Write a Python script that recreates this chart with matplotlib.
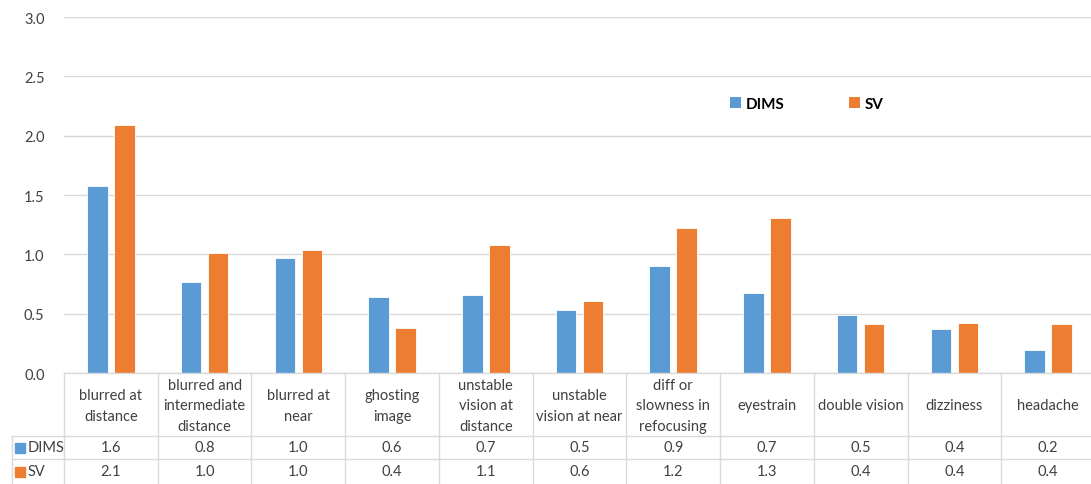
import numpy as np
import matplotlib
matplotlib.use("Agg")
import matplotlib.pyplot as plt

plt.rcParams['font.family'] = ['Lato', 'DejaVu Sans']

categories = ["blurred at\ndistance", "blurred and\nintermediate\ndistance", "blurred at\nnear",
              "ghosting\nimage", "unstable\nvision at\ndistance", "unstable\nvision at near",
              "diff or\nslowness in\nrefocusing", "eyestrain", "double vision", "dizziness", "headache"]
dims = [1.58, 0.77, 0.97, 0.64, 0.66, 0.53, 0.90, 0.67, 0.49, 0.37, 0.19]
sv = [2.09, 1.01, 1.04, 0.38, 1.08, 0.61, 1.22, 1.31, 0.41, 0.42, 0.41]
series_names = ["DIMS", "SV"]
colors = ["#5B9BD5", "#ED7D31"]
grid_c = "#D9D9D9"
text_c = "#404040"

W, H = 1091, 485
fig = plt.figure(figsize=(W / 100, H / 100), dpi=100)

# plot area in pixels: left 64, right 1095, top 18, bottom 374
left, right, top, bot = 64, 1095, 18, 374
ax = fig.add_axes([left / W, 1 - bot / H, (right - left) / W, (bot - top) / H])
x = np.arange(len(categories))
off, bw = 0.144, 0.22
ax.bar(x - off, dims, bw, color=colors[0], edgecolor="white", linewidth=0.6, zorder=3)
ax.bar(x + off, sv, bw, color=colors[1], edgecolor="white", linewidth=0.6, zorder=3)
ax.set_xlim(-0.5, len(categories) - 0.5)
ax.set_ylim(0, 3.0)
ax.set_yticks(np.arange(0, 3.01, 0.5))
ax.set_yticklabels([f"{v:.1f}" for v in np.arange(0, 3.01, 0.5)], fontsize=10.5, color=text_c)
ax.tick_params(axis="y", length=0, pad=14)
ax.set_xticks([])
ax.grid(axis="y", color=grid_c, linewidth=1, zorder=0)
for s in ax.spines.values():
    s.set_visible(False)

# legend
ax.bar([0], [0], color=colors[0], label=series_names[0])
ax.bar([0], [0], color=colors[1], label=series_names[1])
leg = ax.legend(loc="center", bbox_to_anchor=(807 / W, 1 - 105 / H), bbox_transform=fig.transFigure,
                ncol=2, frameon=False, handlelength=0.7, handleheight=0.7, handletextpad=0.3,
                columnspacing=4.25, prop={"weight": "bold", "size": 11})

# data table below the plot
tax = fig.add_axes([left / W, 0, (right - left) / W, (H - bot) / H])
tax.set_xlim(-0.5, len(categories) - 0.5)
tax.set_ylim(H, bot)  # pixel rows, top = 374
tax.axis("off")
colw = (right - left) / len(categories)
xlab = -0.5 - (left - 12) / colw  # left edge of the row-label column
r1, r2, r3 = 437, 460, 485
lk = dict(color=grid_c, linewidth=1, clip_on=False)
tax.plot([-0.5, len(categories) - 0.5], [bot, bot], **lk)
tax.plot([xlab, len(categories) - 0.5], [r1, r1], **lk)
tax.plot([xlab, len(categories) - 0.5], [r2, r2], **lk)
tax.plot([xlab, xlab], [r1, r3], **lk)
for i in range(len(categories)):
    tax.plot([i - 0.5, i - 0.5], [bot, r3], **lk)
for i, c in enumerate(categories):
    tax.text(i, (bot + r1) / 2 + 1, c, ha="center", va="center", fontsize=10.5, color=text_c,
             linespacing=1.55, clip_on=False)
    tax.text(i, (r1 + r2) / 2, f"{dims[i]:.1f}", ha="center", va="center", fontsize=10.5, color=text_c)
    tax.text(i, (r2 + r3) / 2, f"{sv[i]:.1f}", ha="center", va="center", fontsize=10.5, color=text_c)
for k, (name, row) in enumerate(zip(series_names, [(r1, r2), (r2, r3)])):
    ym = (row[0] + row[1]) / 2
    tax.plot([xlab + 0.09], [ym], marker="s", markersize=7, color=colors[k], clip_on=False)
    tax.text(xlab + 0.17, ym, name, ha="left", va="center", fontsize=10.5, color=text_c, clip_on=False)

fig.savefig("out.png", dpi=100)
